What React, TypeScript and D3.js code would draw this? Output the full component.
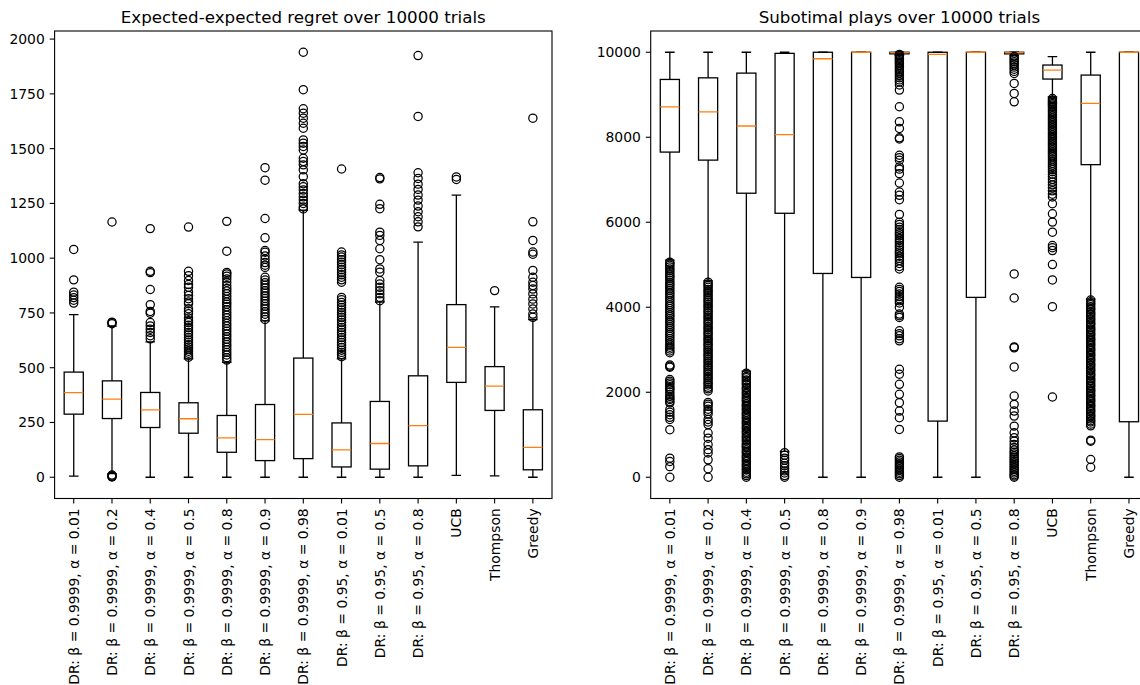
import React from "react";
import * as d3 from "d3";

// Methods compared in both panels, in box order
const methods = [
  "DR: β = 0.9999, α = 0.01",
  "DR: β = 0.9999, α = 0.2",
  "DR: β = 0.9999, α = 0.4",
  "DR: β = 0.9999, α = 0.5",
  "DR: β = 0.9999, α = 0.8",
  "DR: β = 0.9999, α = 0.9",
  "DR: β = 0.9999, α = 0.98",
  "DR: β = 0.95, α = 0.01",
  "DR: β = 0.95, α = 0.5",
  "DR: β = 0.95, α = 0.8",
  "UCB",
  "Thompson",
  "Greedy",
];

// Expected-expected regret: box statistics
const regretLow = [5, 17, 0, 0, 0, 0, 0, 0, 0, 0, 9, 6, 0];
const regretQ1 = [288, 268, 227, 201, 114, 76, 85, 47, 37, 52, 433, 305, 34];
const regretMedian = [386, 357, 308, 267, 180, 172, 287, 125, 154, 236, 593, 416, 136];
const regretQ3 = [480, 440, 387, 340, 282, 332, 544, 248, 346, 463, 788, 505, 308];
const regretHigh = [742, 690, 618, 540, 525, 714, 1219, 540, 800, 1073, 1288, 778, 720];
const regretOutliers = [
  [1040, 901, 845, 832, 820, 808, 795],
  [1165, 708, 705, 701, 10, 6, 3, 1],
  [1135, 940, 934, 857, 788, 757, 749, 706, 691, 676, 661, 646, 632],
  [1142, 940, 920, 898, 880, 867, 845, 830, 815, 800, 792, 769, 758, 746, 727, 715, 706, 694,
    683, 672, 661, 650, 638, 627, 616, 605, 595, 585, 575, 566, 557, 548],
  [1168, 1032, 935, 928, 918, 905, 890, 875, 862, 850, 838, 825, 812, 800, 790, 778, 765, 752,
    740, 728, 715, 702, 690, 678, 666, 654, 642, 630, 618, 606, 594, 582, 570, 558, 546, 535],
  [1413, 1356, 1181, 1093, 1035, 1027, 1010, 995, 980, 968, 958, 913, 900, 888, 876, 864, 852,
    840, 828, 816, 804, 792, 780, 768, 756, 744, 732, 720],
  [1940, 1769, 1682, 1662, 1639, 1616, 1593, 1540, 1525, 1510, 1494, 1456, 1441, 1426, 1403,
    1372, 1340, 1326, 1311, 1295, 1280, 1265, 1250, 1234, 1225],
  [1407, 1028, 1015, 1005, 993, 982, 970, 959, 947, 936, 924, 913, 901, 890, 821, 810, 798, 786,
    775, 763, 752, 741, 730, 718, 707, 695, 684, 672, 661, 650, 638, 627, 615, 604, 592, 580,
    570, 560, 550],
  [1368, 1362, 1246, 1226, 1119, 1104, 1081, 1043, 993, 951, 936, 898, 882, 867, 852, 837, 821, 806],
  [1925, 1647, 1390, 1364, 1338, 1314, 1288, 1265, 1238, 1212, 1189, 1166, 1143],
  [1371, 1359],
  [852],
  [1639, 1166, 1081, 1028, 1018, 944, 913, 890, 875, 859, 837, 813, 791, 768, 745, 730],
];

// Suboptimal plays: box statistics
const playsLow = [5111, 4622, 2497, 609, 0, 0, 9925, 0, 0, 9925, 8952, 4193, 0];
const playsQ1 = [7651, 7462, 6683, 6211, 4795, 4701, 9962, 1321, 4232, 9962, 9369, 7355, 1306];
const playsMedian = [8713, 8595, 8265, 8062, 9847, 10000, 9990, 9950, 10000, 9990, 9581, 8795, 10000];
const playsQ3 = [9360, 9398, 9509, 9974, 10000, 10000, 10000, 10000, 10000, 10000, 9699, 9463, 10000];
const playsHigh = [10000, 10000, 10000, 10000, 10000, 10000, 10000, 10000, 10000, 10000, 9896, 10000, 10000];
const playsOutliers = [
  [5060, 5030, 4990, 4950, 4900, 4860, 4810, 4760, 4720, 4680, 4630, 4580, 4540, 4500, 4450,
    4400, 4350, 4310, 4260, 4210, 4160, 4110, 4060, 4020, 3970, 3920, 3870, 3820, 3780, 3730,
    3680, 3640, 3590, 3540, 3500, 3450, 3400, 3360, 3310, 3260, 3210, 3160, 3110, 3060, 3020,
    2970, 2930, 2640, 2610, 2590, 2300, 2260, 2220, 2180, 2130, 2090, 2060, 2000, 1950, 1900,
    1860, 1830, 1780, 1750, 1590, 1530, 1470, 1410, 1360, 1120, 450, 370, 250, 0],
  [4590, 4550, 4510, 4470, 4420, 4380, 4340, 4290, 4250, 4200, 4160, 4120, 4070, 4030, 3990,
    3940, 3900, 3860, 3810, 3770, 3730, 3680, 3640, 3600, 3550, 3510, 3470, 3420, 3380, 3340,
    3290, 3250, 3210, 3160, 3120, 3080, 3030, 2990, 2950, 2900, 2860, 2820, 2770, 2730, 2690,
    2640, 2600, 2560, 2510, 2470, 2430, 2380, 2340, 2300, 2250, 2210, 2170, 2120, 2080, 2030,
    1760, 1720, 1670, 1600, 1550, 1490, 1360, 1300, 1240, 1040, 920, 770, 650, 570, 410, 200, 0],
  [2450, 2420, 2370, 2340, 2290, 2260, 2210, 2180, 2120, 2090, 2050, 2000, 1970, 1930, 1880,
    1850, 1810, 1780, 1730, 1690, 1660, 1610, 1580, 1530, 1490, 1460, 1410, 1380, 1330, 1290,
    1260, 1210, 1170, 1140, 1090, 1060, 1010, 960, 930, 880, 850, 790, 760, 720, 690, 640, 600,
    570, 520, 480, 450, 400, 370, 320, 280, 250, 200, 170, 120, 80, 40, 0],
  [580, 520, 450, 400, 330, 270, 210, 150, 100, 40, 0],
  [],
  [],
  [9950, 9920, 9890, 9860, 9830, 9800, 9770, 9740, 9700, 9660, 9620, 9580, 9540, 9500, 9450,
    9400, 9350, 9300, 9230, 9110, 8717, 8363, 8206, 7986, 7960, 7577, 7520, 7459, 7301, 7250,
    7144, 6924, 6711, 6633, 6530, 6184, 6003, 5950, 5885, 5830, 5770, 5728, 5680, 5620, 5570,
    5520, 5460, 5413, 5350, 5300, 5256, 5200, 5150, 5099, 5030, 4960, 4902, 4469, 4420, 4370,
    4311, 4250, 4200, 4154, 4100, 3997, 3839, 3800, 3761, 3446, 3380, 3328, 3260, 3210, 2541,
    2423, 2187, 1951, 1754, 1557, 1400, 1125, 480, 440, 400, 360, 320, 280, 240, 200, 160,
    120, 80, 40, 0],
  [],
  [],
  [9900, 9860, 9820, 9780, 9740, 9700, 9650, 9600, 9550, 9500, 9267, 9031, 8834, 4784, 4217,
    3068, 3045, 2596, 1912, 1715, 1557, 1439, 1203, 1046, 928, 850, 770, 700, 640, 590, 550,
    500, 460, 420, 380, 340, 300, 260, 220, 180, 140, 100, 60, 30, 0],
  [8910, 8880, 8850, 8820, 8790, 8760, 8730, 8700, 8660, 8620, 8580, 8540, 8500, 8460, 8420,
    8380, 8340, 8300, 8260, 8220, 8180, 8140, 8100, 8060, 8020, 7980, 7940, 7900, 7860, 7820,
    7780, 7740, 7700, 7660, 7620, 7580, 7540, 7490, 7440, 7390, 7340, 7290, 7240, 7190, 7130,
    7070, 7010, 6950, 6880, 6810, 6740, 6660, 6594, 6436, 6200, 6003, 5767, 5452, 5400, 5334,
    5004, 4642, 4013, 1888],
  [4170, 4130, 4090, 4060, 4010, 3970, 3940, 3890, 3850, 3820, 3770, 3730, 3700, 3650, 3610,
    3580, 3530, 3490, 3460, 3410, 3370, 3340, 3290, 3250, 3220, 3170, 3130, 3100, 3050, 3010,
    2980, 2930, 2890, 2860, 2810, 2770, 2740, 2690, 2650, 2620, 2570, 2530, 2500, 2450, 2410,
    2380, 2330, 2290, 2260, 2210, 2170, 2140, 2090, 2050, 2020, 1970, 1930, 1900, 1850, 1810,
    1780, 1730, 1690, 1660, 1610, 1570, 1540, 1490, 1450, 1420, 1370, 1330, 1300, 1250, 1210,
    872, 849, 417, 236],
  [],
];

const regretTicks = [0, 250, 500, 750, 1000, 1250, 1500, 1750, 2000];
const playsTicks = [0, 2000, 4000, 6000, 8000, 10000];

const FONT = "'DejaVu Sans', sans-serif";
const TOP = 31;
const BOTTOM = 498.5;
const TICK = 4.9;
const PAD = 4.9;
const LW = 1.3;

type PanelProps = {
  title: string;
  left: number;
  right: number;
  yDomain: [number, number];
  ticks: number[];
  low: number[];
  q1: number[];
  median: number[];
  q3: number[];
  high: number[];
  outliers: number[][];
  clipId: string;
};

function Panel(p: PanelProps) {
  const x = d3.scaleLinear().domain([0.5, methods.length + 0.5]).range([p.left, p.right]);
  const y = d3.scaleLinear().domain(p.yDomain).range([BOTTOM, TOP]);
  const boxHalf = x(1.25) - x(1);
  const capHalf = boxHalf / 2;
  return (
    <g>
      <defs>
        <clipPath id={p.clipId}>
          <rect x={p.left} y={TOP} width={p.right - p.left} height={BOTTOM - TOP} />
        </clipPath>
      </defs>
      <g clipPath={`url(#${p.clipId})`}>
        {methods.map((m, i) => {
          const cx = x(i + 1);
          return (
            <g key={m}>
              <line x1={cx} x2={cx} y1={y(p.q1[i])} y2={y(p.low[i])} stroke="#000" strokeWidth={LW} />
              <line x1={cx} x2={cx} y1={y(p.q3[i])} y2={y(p.high[i])} stroke="#000" strokeWidth={LW} />
              <line x1={cx - capHalf} x2={cx + capHalf} y1={y(p.low[i])} y2={y(p.low[i])} stroke="#000" strokeWidth={LW} />
              <line x1={cx - capHalf} x2={cx + capHalf} y1={y(p.high[i])} y2={y(p.high[i])} stroke="#000" strokeWidth={LW} />
              <rect
                x={cx - boxHalf}
                y={y(p.q3[i])}
                width={boxHalf * 2}
                height={y(p.q1[i]) - y(p.q3[i])}
                fill="none"
                stroke="#000"
                strokeWidth={LW}
              />
              <line x1={cx - boxHalf} x2={cx + boxHalf} y1={y(p.median[i])} y2={y(p.median[i])} stroke="#ff7f0e" strokeWidth={LW} />
              {p.outliers[i].map((v, j) => (
                <circle key={j} cx={cx} cy={y(v)} r={4.1} fill="none" stroke="#000" strokeWidth={1.25} />
              ))}
            </g>
          );
        })}
      </g>
      {/* spines */}
      <rect x={p.left} y={TOP} width={p.right - p.left} height={BOTTOM - TOP} fill="none" stroke="#000" strokeWidth={1.1} />
      {/* y axis */}
      {p.ticks.map((t) => (
        <g key={t}>
          <line x1={p.left - TICK} x2={p.left} y1={y(t)} y2={y(t)} stroke="#000" strokeWidth={1.1} />
          <text
            x={p.left - TICK - PAD}
            y={y(t)}
            dy="0.36em"
            textAnchor="end"
            fontFamily={FONT}
            fontSize={13.9}
            fill="#000"
          >
            {t}
          </text>
        </g>
      ))}
      {/* x axis */}
      {methods.map((m, i) => {
        const cx = x(i + 1);
        return (
          <g key={m}>
            <line x1={cx} x2={cx} y1={BOTTOM} y2={BOTTOM + TICK} stroke="#000" strokeWidth={1.1} />
            <text
              transform={`translate(${cx},${BOTTOM + TICK + PAD}) rotate(-90)`}
              dy="0.36em"
              textAnchor="end"
              fontFamily={FONT}
              fontSize={13.9}
              fill="#000"
            >
              {m}
            </text>
          </g>
        );
      })}
      <text
        x={(p.left + p.right) / 2}
        y={TOP - 8.3}
        textAnchor="middle"
        fontFamily={FONT}
        fontSize={16.7}
        fill="#000"
      >
        {p.title}
      </text>
    </g>
  );
}

export default function App() {
  return (
    <svg
      width={1140}
      height={685}
      style={{ position: "absolute", left: 0, top: 0, background: "#fff", overflow: "hidden" }}
    >
      <rect x={0} y={0} width={1140} height={685} fill="#fff" />
      <Panel
        title="Expected-expected regret over 10000 trials"
        left={54.6}
        right={552}
        yDomain={[-97, 2037]}
        ticks={regretTicks}
        low={regretLow}
        q1={regretQ1}
        median={regretMedian}
        q3={regretQ3}
        high={regretHigh}
        outliers={regretOutliers}
        clipId="clipRegret"
      />
      <Panel
        title="Subotimal plays over 10000 trials"
        left={650.7}
        right={1148.1}
        yDomain={[-500, 10500]}
        ticks={playsTicks}
        low={playsLow}
        q1={playsQ1}
        median={playsMedian}
        q3={playsQ3}
        high={playsHigh}
        outliers={playsOutliers}
        clipId="clipPlays"
      />
    </svg>
  );
}
